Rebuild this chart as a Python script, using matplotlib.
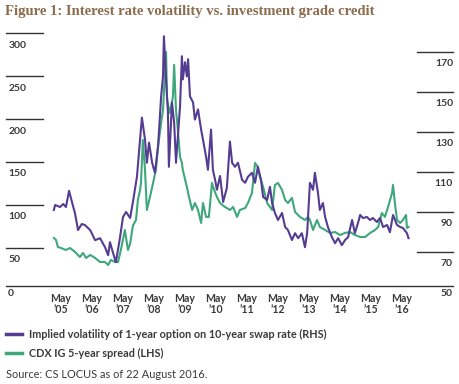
import matplotlib
matplotlib.use("Agg")
import matplotlib.pyplot as plt
import matplotlib.transforms as mtransforms

# ---------------- data ----------------
vol_dates = [2005.20, 2005.24, 2005.40, 2005.50, 2005.59, 2005.69, 2005.80, 2005.88, 2005.98, 2006.10,
             2006.20, 2006.37, 2006.53, 2006.69, 2006.85, 2006.95, 2007.01, 2007.10, 2007.20, 2007.33,
             2007.43, 2007.53, 2007.66, 2007.75, 2007.88, 2007.98, 2008.04, 2008.14, 2008.20, 2008.27,
             2008.37, 2008.46, 2008.56, 2008.66, 2008.72, 2008.75, 2008.82, 2008.88, 2008.91, 2009.01,
             2009.08, 2009.14, 2009.20, 2009.27, 2009.33, 2009.36, 2009.43, 2009.49, 2009.53, 2009.59,
             2009.69, 2009.75, 2009.85, 2009.95, 2010.01, 2010.11, 2010.17, 2010.27, 2010.33, 2010.40,
             2010.46, 2010.56, 2010.66, 2010.78, 2010.88, 2010.95, 2011.04, 2011.14, 2011.27, 2011.37,
             2011.46, 2011.59, 2011.69, 2011.78, 2011.88, 2011.95, 2012.08, 2012.17, 2012.24, 2012.33,
             2012.43, 2012.56, 2012.66, 2012.75, 2012.88, 2012.98, 2013.08, 2013.20, 2013.30, 2013.37,
             2013.46, 2013.56, 2013.62, 2013.72, 2013.78, 2013.88, 2013.95, 2014.04, 2014.17, 2014.27,
             2014.37, 2014.49, 2014.59, 2014.69, 2014.82, 2014.91, 2015.01, 2015.08, 2015.17, 2015.30,
             2015.40, 2015.49, 2015.62, 2015.72, 2015.82, 2015.95, 2016.04, 2016.14, 2016.27, 2016.37,
             2016.46, 2016.59, 2016.64]
vol_values = [91.0, 93.5, 92.5, 94.0, 92.5, 100.6, 94.0, 89.5, 81.0, 84.0,
              83.5, 81.0, 75.9, 76.9, 72.4, 68.4, 74.9, 70.0, 64.9, 76.9,
              87.5, 90.0, 87.0, 95.0, 107.6, 126.2, 137.2, 126.2, 114.6, 124.7,
              114.6, 109.6, 122.7, 147.8, 157.8, 177.9, 156.3, 139.7, 112.6, 144.8,
              134.7, 114.6, 127.7, 142.8, 167.9, 156.3, 164.9, 157.8, 166.4, 147.8,
              144.8, 136.2, 141.3, 131.2, 126.2, 117.6, 111.1, 131.2, 111.1, 106.1,
              101.1, 108.0, 95.0, 102.0, 125.2, 114.6, 112.6, 114.6, 106.1, 104.6,
              107.6, 109.6, 104.6, 112.6, 106.1, 97.5, 96.0, 102.6, 94.5, 89.5,
              86.0, 89.5, 82.5, 81.0, 76.0, 79.4, 76.9, 79.4, 72.4, 79.4,
              104.6, 101.1, 109.6, 99.5, 91.0, 94.5, 87.5, 82.5, 77.4, 74.4,
              76.9, 73.4, 75.9, 77.4, 86.0, 79.4, 84.5, 88.5, 87.0, 87.5,
              86.0, 87.0, 85.0, 87.0, 82.5, 83.5, 79.9, 88.5, 83.5, 82.5,
              82.0, 79.4, 76.9]

cdx_dates = [2005.20, 2005.27, 2005.33, 2005.43, 2005.59, 2005.72, 2005.88, 2006.04, 2006.14, 2006.24,
             2006.37, 2006.53, 2006.69, 2006.85, 2006.95, 2007.04, 2007.17, 2007.27, 2007.36, 2007.49,
             2007.59, 2007.66, 2007.75, 2007.85, 2007.91, 2007.98, 2008.01, 2008.07, 2008.14, 2008.20,
             2008.30, 2008.40, 2008.49, 2008.56, 2008.66, 2008.72, 2008.82, 2008.85, 2008.94, 2009.04,
             2009.08, 2009.14, 2009.20, 2009.27, 2009.33, 2009.36, 2009.49, 2009.56, 2009.66, 2009.75,
             2009.85, 2009.95, 2010.01, 2010.11, 2010.20, 2010.30, 2010.37, 2010.46, 2010.56, 2010.72,
             2010.88, 2010.98, 2011.11, 2011.20, 2011.37, 2011.46, 2011.59, 2011.69, 2011.78, 2011.85,
             2011.95, 2012.08, 2012.24, 2012.33, 2012.43, 2012.56, 2012.66, 2012.75, 2012.88, 2012.98,
             2013.14, 2013.30, 2013.40, 2013.46, 2013.56, 2013.69, 2013.78, 2013.95, 2014.11, 2014.27,
             2014.43, 2014.59, 2014.75, 2014.91, 2015.08, 2015.24, 2015.40, 2015.56, 2015.66, 2015.78,
             2015.88, 2015.98, 2016.11, 2016.14, 2016.20, 2016.27, 2016.37, 2016.46, 2016.56, 2016.59,
             2016.64]
cdx_values = [61.6, 59.3, 51.2, 50.0, 47.7, 50.0, 45.4, 39.5, 44.2, 38.4,
              41.9, 38.4, 33.7, 33.7, 30.2, 36.1, 33.7, 33.7, 47.7, 70.9,
              47.7, 55.0, 76.0, 82.6, 105.8, 117.5, 125.6, 175.6, 140.7, 94.2,
              109.3, 125.6, 140.7, 167.5, 195.4, 210.5, 278.0, 222.1, 207.0, 225.6,
              263.0, 210.5, 187.2, 155.8, 148.9, 140.7, 121.0, 109.3, 94.2, 102.3,
              94.2, 79.1, 102.3, 86.1, 86.1, 125.6, 117.5, 109.3, 102.3, 97.7,
              94.2, 97.7, 86.1, 94.2, 96.5, 102.3, 114.0, 148.9, 144.2, 132.6,
              121.0, 102.3, 94.2, 123.3, 125.6, 117.5, 105.8, 102.3, 108.2, 91.9,
              86.1, 82.6, 86.1, 82.6, 70.9, 82.6, 74.4, 70.9, 67.5, 68.6,
              65.1, 67.5, 68.6, 65.1, 62.8, 62.8, 67.5, 70.9, 74.4, 90.7,
              86.1, 97.7, 114.0, 123.3, 102.3, 82.6, 79.1, 82.6, 88.4, 73.3,
              74.4]

tick_years = [2005 + 5/12 + k for k in range(12)]
tick_labels = ["May\n\u201905", "May\n\u201906", "May\n\u201907", "May\n\u201908", "May\n\u201909",
               "May\n\u201910", "May\n\u201911", "May\n\u201912", "May\n\u201913", "May\n\u201914",
               "May\n\u201915", "May\n\u201916"]
left_ticks = [50, 100, 150, 200, 250, 300]
right_ticks = [70, 90, 110, 130, 150, 170]

title = "Figure 1: Interest rate volatility vs. investment grade credit"
legend_vol = "Implied volatility of 1-year option on 10-year swap rate (RHS)"
legend_cdx = "CDX IG 5-year spread (LHS)"
source = "Source: CS LOCUS as of 22 August 2016."

# ---------------- style ----------------
PURPLE = "#553c93"
GREEN = "#3ea77c"
TXT = "#3a3a3a"
TITLE_C = "#8c6c4c"
SANS = ["Lato", "DejaVu Sans"]

W, H = 459, 384
fig = plt.figure(figsize=(W / 100, H / 100), dpi=100)

ax_l, ax_r, ax_b, ax_t = 6, 453, 286, 30
ax = fig.add_axes([ax_l / W, 1 - ax_b / H, (ax_r - ax_l) / W, (ax_b - ax_t) / H])
ax2 = ax.twinx()

ax.plot(cdx_dates, cdx_values, color=GREEN, lw=1.5, solid_joinstyle="round")
ax2.plot(vol_dates, vol_values, color=PURPLE, lw=1.5, solid_joinstyle="round")

ax.set_xlim(2003.656, 2018.075)
ax.set_ylim(5.8, 303.5)
ax2.set_ylim(53.0, 181.0)

for a in (ax, ax2):
    for s in a.spines.values():
        s.set_visible(False)
    a.set_yticks([])
    a.tick_params(length=0)
    a.patch.set_visible(False)
ax.spines["bottom"].set_visible(True)
ax.spines["bottom"].set_color("#333333")
ax.spines["bottom"].set_linewidth(1.0)

ax.set_xticks(tick_years)
ax.set_xticklabels(tick_labels, fontsize=7.6, fontweight="bold", color=TXT,
                   family=SANS, linespacing=1.05)
ax.tick_params(axis="x", pad=5)

# left gridline segments + labels
tl = mtransforms.blended_transform_factory(ax.transAxes, ax.transData)
off = mtransforms.offset_copy
for v in left_ticks:
    ax.plot([0, 0.083], [v, v], transform=tl, color="#333333", lw=1.0, clip_on=False)
    ax.text(0.005, v, str(v), transform=off(tl, fig=fig, x=0, y=-12, units="dots"),
            ha="left", va="center", fontsize=7.5, fontweight="bold", color=TXT, family=SANS)
tr = mtransforms.blended_transform_factory(ax2.transAxes, ax2.transData)
for v in right_ticks:
    ax2.plot([0.919, 1.0], [v, v], transform=tr, color="#333333", lw=1.0, clip_on=False)
    ax2.text(1.0, v, str(v), transform=off(tr, fig=fig, x=0, y=-11, units="dots"),
             ha="right", va="center", fontsize=7.5, fontweight="bold", color=TXT, family=SANS)
# bottom labels
fig.text(8 / W, 1 - 293 / H, "0", ha="left", va="center", fontsize=7.5,
         fontweight="bold", color=TXT, family=SANS)
fig.text(453 / W, 1 - 293 / H, "50", ha="right", va="center", fontsize=7.5,
         fontweight="bold", color=TXT, family=SANS)

# title
fig.text(5 / W, 1 - 12 / H, title, ha="left", va="center", fontsize=10.5,
         fontweight="bold", color=TITLE_C, family=["Liberation Serif", "DejaVu Serif"])

# legend
for yy, c, lab in [(334, PURPLE, legend_vol), (353, GREEN, legend_cdx)]:
    fig.add_artist(plt.Line2D([6 / W, 22 / W], [1 - yy / H, 1 - yy / H], color=c, lw=2.5))
    fig.text(29 / W, 1 - yy / H, lab, ha="left", va="center", fontsize=7.85,
             fontweight="bold", color=TXT, family=SANS)

fig.text(6 / W, 1 - 375 / H, source, ha="left", va="center", fontsize=7.9,
         color=TXT, family=SANS)

fig.savefig("out.png", dpi=100)
